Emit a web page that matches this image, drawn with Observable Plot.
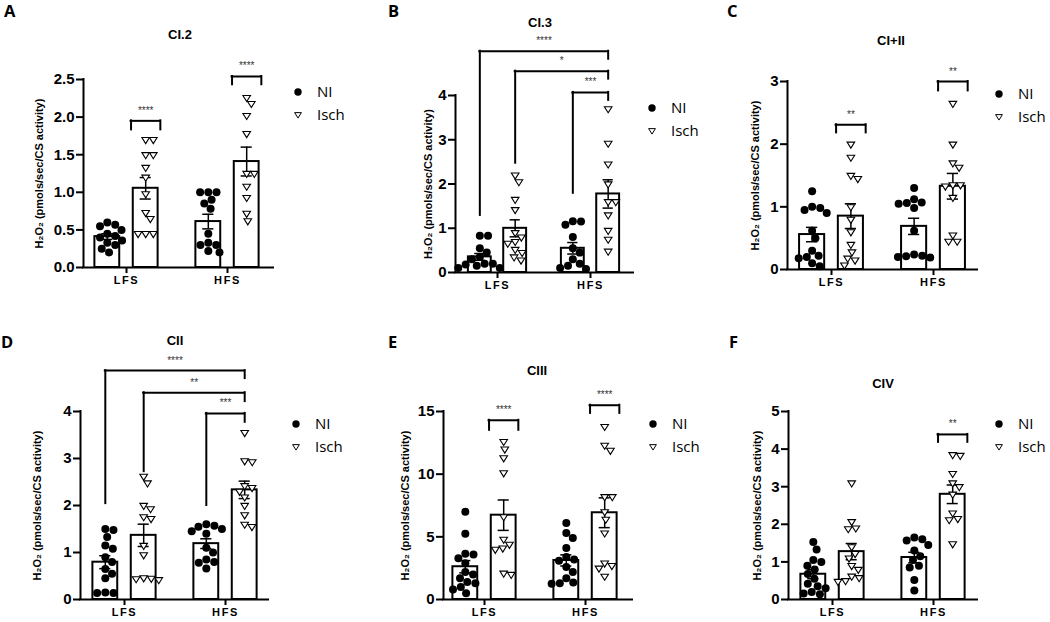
<!DOCTYPE html>
<html><head><meta charset="utf-8">
<script src="https://cdn.jsdelivr.net/npm/d3@7"></script>
<script src="https://cdn.jsdelivr.net/npm/@observablehq/plot@0.6"></script>
<style>
html,body{margin:0;padding:0;background:#fff;}
#fig{position:relative;width:1050px;height:622px;overflow:hidden;background:#fff;}
#fig .panel{position:absolute;}
#fig .panel svg{overflow:visible;max-width:none;background:none;}
g[aria-label="x-axis tick label"] text{letter-spacing:1.6px;}
</style></head><body><div id="fig"></div>
<script>
// ---------------- data ----------------
const diets = ["LFS", "HFS"];
const groups = ["NI", "Isch"];
const panelLetters = ["A", "B", "C", "D", "E", "F"];
const panelTitles = ["CI.2", "CI.3", "CI+II", "CII", "CIII", "CIV"];
const yLabel = "H₂O₂ (pmols/sec/CS activity)";

// each: [LFS NI, LFS Isch, HFS NI, HFS Isch]
const CI2 = [
  [0.2, 0.25, 0.3, 0.33, 0.36, 0.4, 0.42, 0.45, 0.5, 0.55, 0.57, 0.6],
  [1.7, 1.7, 1.5, 1.5, 1.33, 1.2, 0.98, 0.73, 0.65, 0.45, 0.45, 0.45],
  [1.0, 1.0, 1.0, 0.9, 0.85, 0.78, 0.45, 0.33, 0.3, 0.3, 0.22, 0.2],
  [2.26, 2.18, 2.02, 1.78, 1.25, 1.25, 1.08, 0.93, 0.72, 0.62]
];
const CI3 = [
  [0.83, 0.83, 0.55, 0.45, 0.35, 0.3, 0.2, 0.2, 0.18, 0.15, 0.1, 0.1],
  [2.2, 2.05, 1.65, 1.42, 0.9, 0.8, 0.7, 0.66, 0.52, 0.45, 0.35, 0.28],
  [1.16, 1.15, 1.08, 0.8, 0.55, 0.45, 0.3, 0.2, 0.15, 0.1, 0.08],
  [3.7, 2.92, 2.45, 2.0, 1.6, 1.6, 1.3, 0.95, 0.75, 0.48]
];
const CI_II = [
  [1.25, 1.0, 0.98, 0.95, 0.9, 0.62, 0.5, 0.3, 0.22, 0.2, 0.18, 0.1, 0.05],
  [2.0, 1.79, 1.5, 1.45, 1.0, 0.8, 0.6, 0.4, 0.28, 0.18, 0.15, 0.07],
  [1.3, 1.12, 1.07, 1.06, 1.05, 0.98, 0.62, 0.24, 0.22, 0.21, 0.2, 0.19],
  [2.65, 2.0, 1.7, 1.63, 1.35, 1.35, 1.33, 1.15, 0.55, 0.45, 0.45]
];
const CII = [
  [1.5, 1.48, 1.33, 1.15, 1.08, 0.9, 0.8, 0.65, 0.55, 0.45, 0.15, 0.14, 0.14],
  [2.62, 2.48, 2.0, 1.93, 1.76, 1.72, 1.15, 0.95, 0.46, 0.45, 0.44, 0.42],
  [1.6, 1.57, 1.55, 1.5, 1.45, 1.4, 1.1, 1.0, 0.85, 0.78, 0.8, 0.66],
  [3.55, 2.95, 2.93, 2.42, 2.38, 2.3, 2.18, 2.0, 1.8, 1.6, 1.55]
];
const CIII = [
  [7.0, 5.25, 3.65, 3.6, 3.3, 2.9, 2.2, 2.0, 1.7, 1.4, 1.3, 1.0, 0.8, 0.5],
  [12.6, 12.0, 11.3, 10.1, 6.6, 4.8, 4.4, 4.1, 4.0, 2.1, 2.0],
  [6.1, 5.3, 4.9, 4.1, 3.4, 3.2, 3.1, 2.6, 2.2, 1.7, 1.35, 1.3, 1.25],
  [13.8, 12.3, 11.9, 8.2, 8.2, 7.0, 6.4, 5.3, 2.9, 2.7, 2.5, 1.85]
];
const CIV = [
  [1.53, 1.33, 1.05, 1.0, 0.9, 0.8, 0.68, 0.55, 0.42, 0.35, 0.3, 0.2, 0.16, 0.14],
  [3.1, 2.07, 1.9, 1.88, 1.4, 1.22, 1.1, 0.9, 0.8, 0.62, 0.58, 0.5, 0.48],
  [1.65, 1.6, 1.57, 1.45, 1.3, 1.15, 1.05, 0.9, 0.85, 0.52, 0.24],
  [3.85, 3.83, 3.35, 3.1, 3.0, 2.8, 2.3, 2.15, 2.12, 1.48]
];
const panelData = [CI2, CI3, CI_II, CII, CIII, CIV];

const yTicksA = [0, 0.5, 1, 1.5, 2, 2.5];
const yTicksB = [0, 1, 2, 3, 4];
const yTicksC = [0, 1, 2, 3];
const yTicksD = [0, 1, 2, 3, 4];
const yTicksE = [0, 5, 10, 15];
const yTicksF = [0, 1, 2, 3, 4, 5];
const panelTicks = [yTicksA, yTicksB, yTicksC, yTicksD, yTicksE, yTicksF];

// significance brackets (y in data units)
const bracketsA = [
  {from: ["LFS", "Isch"], to: null, y: 1.95, footFrom: 1.83, footTo: 1.83, label: "****"},
  {from: ["HFS", "Isch"], to: null, y: 2.54, footFrom: 2.43, footTo: 2.43, label: "****"}
];
const bracketsB = [
  {from: ["LFS", "NI"], to: ["HFS", "Isch"], y: 5.0, footFrom: 1.29, footTo: 4.82, label: "****"},
  {from: ["LFS", "Isch"], to: ["HFS", "Isch"], y: 4.55, footFrom: 2.47, footTo: 4.37, label: "*"},
  {from: ["HFS", "NI"], to: ["HFS", "Isch"], y: 4.07, footFrom: 1.79, footTo: 3.89, label: "***"}
];
const bracketsC = [
  {from: ["LFS", "Isch"], to: null, y: 2.31, footFrom: 2.18, footTo: 2.18, label: "**"},
  {from: ["HFS", "Isch"], to: null, y: 3.0, footFrom: 2.85, footTo: 2.85, label: "**"}
];
const bracketsD = [
  {from: ["LFS", "NI"], to: ["HFS", "Isch"], y: 4.87, footFrom: 2.04, footTo: 4.70, label: "****"},
  {from: ["LFS", "Isch"], to: ["HFS", "Isch"], y: 4.40, footFrom: 2.72, footTo: 4.21, label: "**"},
  {from: ["HFS", "NI"], to: ["HFS", "Isch"], y: 3.96, footFrom: 2.0, footTo: 3.77, label: "***"}
];
const bracketsE = [
  {from: ["LFS", "Isch"], to: null, y: 14.3, footFrom: 13.5, footTo: 13.5, label: "****"},
  {from: ["HFS", "Isch"], to: null, y: 15.5, footFrom: 14.85, footTo: 14.85, label: "****"}
];
const bracketsF = [
  {from: ["HFS", "Isch"], to: null, y: 4.39, footFrom: 4.18, footTo: 4.18, label: "**"}
];
const panelBrackets = [bracketsA, bracketsB, bracketsC, bracketsD, bracketsE, bracketsF];

// ---------------- layout (pixels) ----------------
const layouts = [
  {left: 0,   top: 0,   w: 345, h: 300, axisX: 83,  y0: 267, yTop: 79,  axisEnd: 273, lfsX: 126, hfsX: 227, yLabelX: 39,
   letter: [4, 17], title: [180, 39], legend: [298, 92]},
  {left: 345, top: 0,   w: 340, h: 300, axisX: 455, y0: 272, yTop: 95,  axisEnd: 633, lfsX: 497, hfsX: 590, yLabelX: 428,
   letter: [388, 17], title: [540, 27], legend: [652, 108]},
  {left: 685, top: 0,   w: 365, h: 300, axisX: 787, y0: 269, yTop: 81,  axisEnd: 977, lfsX: 831, hfsX: 933, yLabelX: 755,
   letter: [727, 17], title: [891, 45], legend: [999, 94]},
  {left: 0,   top: 300, w: 345, h: 322, axisX: 80,  y0: 599, yTop: 411, axisEnd: 268, lfsX: 124, hfsX: 225, yLabelX: 37,
   letter: [1, 348], title: [175, 345], legend: [296, 424]},
  {left: 345, top: 300, w: 340, h: 322, axisX: 443, y0: 599, yTop: 411, axisEnd: 632, lfsX: 484, hfsX: 585, yLabelX: 405,
   letter: [388, 348], title: [537, 375], legend: [653, 424]},
  {left: 685, top: 300, w: 365, h: 322, axisX: 788, y0: 599, yTop: 411, axisEnd: 977, lfsX: 832, hfsX: 933, yLabelX: 757,
   letter: [729, 348], title: [883, 388], legend: [999, 424]}
];
const OFF = 0.19, BAR = 0.123, CAP = 0.055, SINGLE = 0.145;

// downward triangle symbol
const triangleDown = {
  draw(context, size) {
    const r = Math.sqrt(size / Math.PI);
    context.moveTo(-r, -0.55 * r);
    context.lineTo(r, -0.55 * r);
    context.lineTo(0, 1.05 * r);
    context.closePath();
  }
};

// simple beeswarm layout (pixel offsets)
function swarm(vals, pxPerY, d) {
  const order = d3.range(vals.length).sort((a, b) => vals[b] - vals[a]);
  const placed = [], out = new Array(vals.length);
  for (const k of order) {
    const y = vals[k] * pxPerY;
    const near = placed.filter(p => Math.abs(p.y - y) < d);
    const cands = [0];
    for (const p of near) {
      const h = Math.sqrt(d * d - (p.y - y) ** 2);
      cands.push(p.x + h + 0.01, p.x - h - 0.01);
    }
    cands.sort((a, b) => Math.abs(a) - Math.abs(b));
    const x = cands.find(c => near.every(p => (p.x - c) ** 2 + (p.y - y) ** 2 >= d * d - 0.01));
    placed.push({x, y});
    out[k] = x;
  }
  return out;
}

const fig = d3.select("#fig");

panelData.forEach((series, i) => {
  const L = layouts[i];
  const ticks = panelTicks[i];
  const yMax = ticks[ticks.length - 1];
  const spacing = L.hfsX - L.lfsX;
  const xDomain = [1 - (L.lfsX - L.axisX) / spacing, 2 + (L.axisEnd - L.hfsX) / spacing];
  const pxPerY = (L.y0 - L.yTop) / yMax;
  const xc = (diet, group) => diets.indexOf(diet) + 1 + (group === "NI" ? -OFF : OFF);

  const summary = [], rows = [];
  diets.forEach((diet, di) => groups.forEach((group, gi) => {
    const vals = series[di * 2 + gi];
    const c = xc(diet, group);
    summary.push({diet, group, xc: c, mean: d3.mean(vals), sem: d3.deviation(vals) / Math.sqrt(vals.length)});
    const offs = swarm(vals, pxPerY, group === "NI" ? 8.2 : 7.6);
    vals.forEach((v, k) => rows.push({diet, group, value: v, x: c + offs[k] / spacing}));
  }));

  const brs = panelBrackets[i].map(b => {
    let xa, xb;
    if (b.to) { xa = xc(...b.from); xb = xc(...b.to); }
    else { const c = xc(...b.from); xa = c - SINGLE; xb = c + SINGLE; }
    return {...b, xa, xb, xm: (xa + xb) / 2};
  });

  const fmt = yMax === 2.5 ? d3.format(".1f") : d3.format("d");

  const chart = Plot.plot({
    width: L.w, height: L.h,
    marginLeft: L.axisX - L.left,
    marginTop: L.yTop - L.top,
    marginRight: L.left + L.w - L.axisEnd,
    marginBottom: L.top + L.h - L.y0,
    x: {type: "linear", domain: xDomain},
    y: {type: "linear", domain: [0, yMax]},
    style: {fontFamily: "'Liberation Sans', Arial, sans-serif", color: "black", background: "none", overflow: "visible"},
    marks: [
      Plot.rect(summary, {x1: d => d.xc - BAR, x2: d => d.xc + BAR, y1: 0, y2: "mean", fill: "white", stroke: "black", strokeWidth: 2}),
      Plot.ruleX(summary, {x: "xc", y1: d => d.mean - d.sem, y2: d => d.mean + d.sem, stroke: "black", strokeWidth: 1.5}),
      Plot.ruleY(summary, {y: d => d.mean + d.sem, x1: d => d.xc - CAP, x2: d => d.xc + CAP, stroke: "black", strokeWidth: 1.5}),
      Plot.ruleY(summary, {y: d => d.mean - d.sem, x1: d => d.xc - CAP, x2: d => d.xc + CAP, stroke: "black", strokeWidth: 1.5}),
      Plot.dot(rows.filter(d => d.group === "NI"), {x: "x", y: "value", r: 4, fill: "black", stroke: "none"}),
      Plot.dot(rows.filter(d => d.group === "Isch"), {x: "x", y: "value", r: 3.8, symbol: triangleDown, fill: "white", stroke: "black", strokeWidth: 1.1}),
      Plot.ruleX([xDomain[0]], {y1: 0, y2: yMax, stroke: "black", strokeWidth: 2, strokeLinecap: "square"}),
      Plot.ruleY([0], {x1: xDomain[0], x2: xDomain[1], stroke: "black", strokeWidth: 2, strokeLinecap: "square"}),
      Plot.axisY({ticks, tickSize: 7, tickPadding: 2, tickFormat: fmt, fontSize: 15, fontWeight: "bold", label: null, strokeWidth: 2}),
      Plot.axisX({ticks: [1, 2], tickSize: 6, tickPadding: 3, tickFormat: t => diets[t - 1], fontSize: 11, fontWeight: "bold", label: null, strokeWidth: 2}),
      Plot.text([yLabel], {text: d => d, frameAnchor: "left", textAnchor: "middle", lineAnchor: "middle", rotate: -90, dx: L.yLabelX - L.axisX, fontSize: 11, fontWeight: "bold", fill: "black"}),
      Plot.ruleY(brs, {y: "y", x1: "xa", x2: "xb", stroke: "black", strokeWidth: 2, strokeLinecap: "square"}),
      Plot.ruleX(brs, {x: "xa", y1: "footFrom", y2: "y", stroke: "black", strokeWidth: 2, strokeLinecap: "square"}),
      Plot.ruleX(brs, {x: "xb", y1: "footTo", y2: "y", stroke: "black", strokeWidth: 2, strokeLinecap: "square"}),
      Plot.text(brs, {x: "xm", y: "y", text: "label", dy: -7, fontSize: 10, fill: "#333", lineAnchor: "bottom"})
    ]
  });

  fig.append("div").attr("class", "panel")
    .style("left", L.left + "px").style("top", L.top + "px")
    .style("width", L.w + "px").style("height", L.h + "px")
    .node().appendChild(chart);
});

// overlay: panel letters, titles, legends
const ov = fig.append("svg").attr("width", 1050).attr("height", 622)
  .style("position", "absolute").style("left", 0).style("top", 0).style("overflow", "visible");
layouts.forEach((L, i) => {
  ov.append("text").attr("x", L.letter[0]).attr("y", L.letter[1]).text(panelLetters[i])
    .attr("font-family", "'Open Sans', sans-serif").attr("font-weight", 700).attr("font-size", 16.5).attr("fill", "black");
  ov.append("text").attr("x", L.title[0]).attr("y", L.title[1]).text(panelTitles[i])
    .attr("text-anchor", "middle").attr("font-family", "'Liberation Sans', Arial, sans-serif")
    .attr("font-weight", 700).attr("font-size", 13).attr("fill", "black");
  const [lx, ly] = L.legend;
  const lg = ov.append("g");
  groups.forEach((g, k) => {
    const y = ly + k * 22.5;
    if (g === "NI") lg.append("circle").attr("cx", lx).attr("cy", y).attr("r", 3.7).attr("fill", "black");
    else lg.append("path").attr("d", d3.symbol(triangleDown, Math.PI * 3.4 * 3.4)()).attr("transform", `translate(${lx},${y})`)
      .attr("fill", "white").attr("stroke", "black").attr("stroke-width", 1);
    lg.append("text").attr("x", lx + 19).attr("y", y).attr("dy", "0.35em").text(g)
      .attr("font-family", "'Open Sans', sans-serif").attr("font-size", 15).attr("fill", "black");
  });
});
</script>
</body></html>
